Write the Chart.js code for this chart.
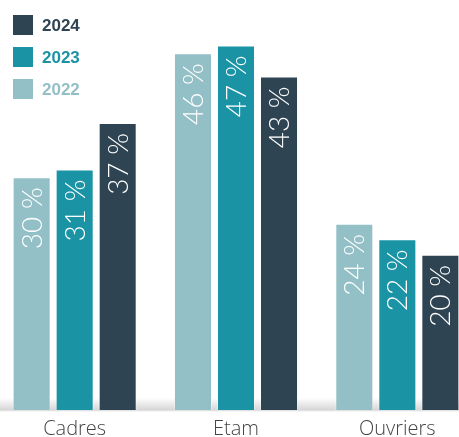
<!DOCTYPE html>
<html>
<head>
<meta charset="utf-8">
<script src="https://cdn.jsdelivr.net/npm/chart.js@4"></script>
<style>
  html, body { margin: 0; padding: 0; background: #fff; overflow: hidden; }
  #wrap { position: absolute; left: -6px; top: 0; width: 484px; height: 437px; }
</style>
</head>
<body>
<div id="wrap"><canvas id="barchart"></canvas></div>
<script>
// data
var categories = ['Cadres', 'Etam', 'Ouvriers'];
var years = ['2022', '2023', '2024'];
var values2022 = [30, 46, 24];
var values2023 = [31, 47, 22];
var values2024 = [37, 43, 20];
var colors = ['#93bfc6', '#1a93a5', '#2e4452'];

(function() {
  var ctx = document.getElementById('barchart').getContext('2d');

  // soft grey shadow the bars stand on
  var floorShadow = {
    id: 'floorShadow',
    beforeDatasetsDraw: function(chart) {
      var c = chart.ctx, a = chart.chartArea;
      var g = c.createLinearGradient(0, a.bottom - 12, 0, a.bottom + 2);
      g.addColorStop(0, 'rgba(0,0,0,0)');
      g.addColorStop(0.85, 'rgba(0,0,0,0.16)');
      g.addColorStop(1, 'rgba(0,0,0,0)');
      c.save();
      c.fillStyle = g;
      c.fillRect(a.left + 6, a.bottom - 12, a.right - a.left, 14);
      c.restore();
    }
  };

  // rotated percentage labels inside the bars
  var barLabels = {
    id: 'barLabels',
    afterDatasetsDraw: function(chart) {
      var c = chart.ctx;
      c.save();
      c.font = '300 28px Lato';
      c.fillStyle = '#ffffff';
      c.textAlign = 'right';
      c.textBaseline = 'alphabetic';
      chart.data.datasets.forEach(function(ds, i) {
        chart.getDatasetMeta(i).data.forEach(function(bar, j) {
          c.save();
          c.translate(bar.x, bar.y + 10);
          c.rotate(-Math.PI / 2);
          c.fillText(ds.data[j] + ' %', 0, 10);
          c.restore();
        });
      });
      c.restore();
    }
  };

  // stacked legend top-left, newest year first
  var sideLegend = {
    id: 'sideLegend',
    afterDraw: function(chart) {
      var c = chart.ctx;
      var ds = chart.data.datasets.slice().reverse();
      c.save();
      c.font = 'bold 17px "Liberation Sans", Arial';
      c.textBaseline = 'middle';
      ds.forEach(function(d, i) {
        var y = 15 + i * 32;
        c.fillStyle = d.backgroundColor;
        c.fillRect(19, y, 20, 20);
        c.fillText(d.label, 48, y + 11);
      });
      c.restore();
    }
  };

  if (ctx) {
    var myChart = new Chart(ctx, {
      type: 'bar',
      data: {
        labels: categories,
        datasets: [
          { label: years[0], data: values2022, backgroundColor: colors[0] },
          { label: years[1], data: values2023, backgroundColor: colors[1] },
          { label: years[2], data: values2024, backgroundColor: colors[2] }
        ]
      },
      options: {
        responsive: true,
        maintainAspectRatio: false,
        animation: false,
        devicePixelRatio: 1,
        layout: { padding: 0 },
        datasets: {
          bar: {
            categoryPercentage: 0.8,
            barPercentage: 0.884,
            borderWidth: 1,
            borderColor: 'rgba(255,255,255,0.35)'
          }
        },
        scales: {
          x: {
            grid: { display: false, drawTicks: false },
            border: { display: false },
            ticks: {
              color: '#444444',
              padding: 9,
              font: { family: '"Open Sans"', size: 20, weight: '300', lineHeight: 1 }
            },
            afterFit: function(scale) { scale.height = 27; }
          },
          y: {
            display: false,
            min: 0,
            max: 52.85
          }
        },
        plugins: {
          legend: { display: false },
          tooltip: { enabled: false }
        }
      },
      plugins: [floorShadow, barLabels, sideLegend]
    });
  } else {
    console.error("Canvas context 'ctx' not found.");
  }
})();
</script>
</body>
</html>
